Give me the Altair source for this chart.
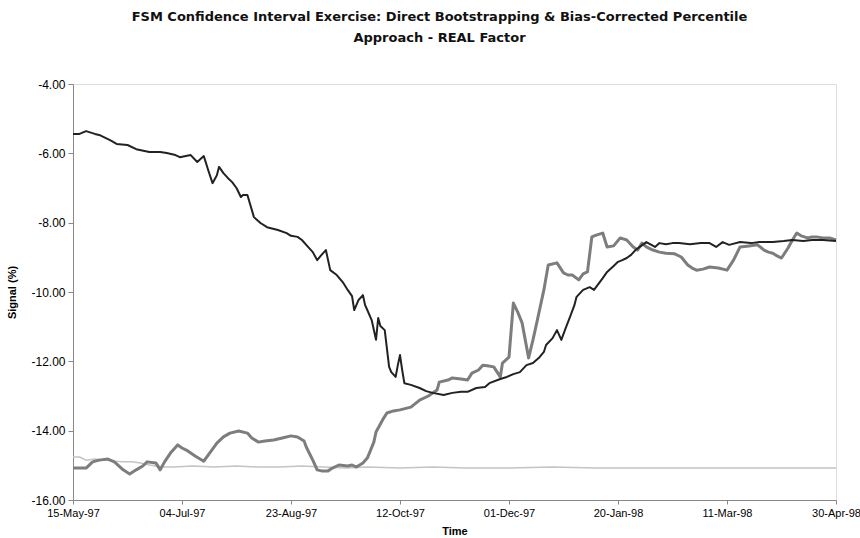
import altair as alt
import pandas as pd

# Day offsets are counted from 15-May-1997; values are the signal in percent.
START = "1997-05-15"

# Direct bootstrapping signal (dark line)
direct_days = [0, 3, 6, 10, 12, 17, 20, 25, 29, 35, 40, 43, 47, 49, 54, 57, 60, 62, 64, 66,
               67, 69, 71, 73, 75, 77, 78, 80, 83, 86, 89, 94, 98, 100, 103, 105, 107, 110, 112, 114,
               116, 118, 121, 124, 126, 128, 129, 131, 133, 134, 135, 137, 139, 140, 141, 143, 145, 146, 148, 149,
               150, 151, 152, 155, 159, 162, 165, 170, 174, 178, 181, 185, 189, 191, 196, 199, 202, 205, 208, 211,
               214, 216, 217, 220, 222, 224, 226, 228, 230, 231, 234, 237, 239, 243, 245, 248, 250, 252, 254, 256,
               258, 260, 263, 267, 269, 272, 275, 278, 283, 288, 292, 295, 298, 301, 306, 311, 315, 321, 326, 330,
               335, 339, 344, 350]
direct_vals = [-5.44, -5.44, -5.36, -5.44, -5.47, -5.62, -5.73, -5.76, -5.88, -5.96, -5.96, -5.99, -6.05, -6.11, -6.05, -6.25, -6.08, -6.48, -6.86, -6.63,
               -6.39, -6.57, -6.71, -6.83, -7.00, -7.26, -7.20, -7.20, -7.84, -8.01, -8.13, -8.21, -8.30, -8.38, -8.41, -8.50, -8.64, -8.85, -9.08, -8.93,
               -8.79, -9.37, -9.51, -9.74, -9.94, -10.12, -10.52, -10.23, -10.09, -10.38, -10.52, -10.81, -11.38, -10.75, -10.98, -11.10, -12.16, -12.31, -12.45, -12.11,
               -11.82, -12.25, -12.63, -12.68, -12.77, -12.86, -12.91, -12.97, -12.91, -12.88, -12.88, -12.77, -12.74, -12.63, -12.51, -12.45, -12.37, -12.31, -12.11, -12.05,
               -11.88, -11.73, -11.53, -11.33, -11.10, -11.38, -11.04, -10.72, -10.38, -10.14, -9.94, -9.86, -9.94, -9.60, -9.42, -9.25, -9.13, -9.08, -9.02, -8.93,
               -8.79, -8.70, -8.56, -8.70, -8.59, -8.62, -8.59, -8.59, -8.62, -8.59, -8.59, -8.70, -8.56, -8.64, -8.56, -8.59, -8.56, -8.56, -8.53, -8.50,
               -8.53, -8.50, -8.50, -8.53]

# Bias-corrected percentile signal (thick grey line)
bcp_days = [0, 3, 6, 9, 12, 16, 19, 23, 26, 29, 32, 34, 38, 40, 42, 45, 48, 50, 52, 56,
            60, 63, 66, 69, 72, 76, 80, 82, 85, 88, 92, 96, 100, 103, 106, 107, 110, 112, 114, 117,
            119, 122, 126, 128, 130, 133, 135, 136, 138, 139, 142, 144, 147, 150, 155, 159, 163, 167, 168, 172,
            174, 178, 181, 183, 186, 188, 190, 193, 196, 197, 200, 202, 204, 206, 209, 211, 213, 216, 218, 222,
            225, 227, 229, 232, 234, 236, 238, 240, 243, 245, 248, 251, 254, 257, 259, 261, 263, 266, 269, 272,
            276, 279, 282, 284, 286, 289, 292, 296, 300, 303, 306, 310, 314, 317, 319, 321, 323, 325, 328, 330,
            332, 334, 337, 339, 341, 344, 347, 350]
bcp_vals = [-15.08, -15.08, -15.08, -14.90, -14.85, -14.82, -14.90, -15.13, -15.25, -15.13, -15.02, -14.90, -14.93, -15.13, -14.90, -14.62, -14.41, -14.50, -14.56, -14.73,
            -14.88, -14.62, -14.36, -14.18, -14.07, -14.01, -14.07, -14.21, -14.33, -14.30, -14.27, -14.21, -14.15, -14.18, -14.30, -14.47, -14.85, -15.13, -15.16, -15.16,
            -15.08, -14.99, -15.02, -14.99, -15.05, -14.93, -14.79, -14.64, -14.33, -14.04, -13.69, -13.49, -13.43, -13.40, -13.32, -13.12, -13.00, -12.83, -12.60, -12.54,
            -12.48, -12.51, -12.54, -12.34, -12.25, -12.11, -12.13, -12.16, -12.45, -12.05, -11.88, -10.32, -10.58, -10.89, -11.90, -11.38, -10.81, -9.94, -9.22, -9.16,
            -9.45, -9.51, -9.51, -9.65, -9.48, -9.42, -8.41, -8.36, -8.30, -8.70, -8.67, -8.44, -8.50, -8.70, -8.79, -8.59, -8.70, -8.79, -8.85, -8.88,
            -8.90, -8.99, -9.22, -9.31, -9.37, -9.34, -9.28, -9.31, -9.37, -9.08, -8.70, -8.67, -8.64, -8.79, -8.85, -8.88, -8.96, -9.02, -8.73, -8.50,
            -8.30, -8.38, -8.44, -8.41, -8.41, -8.44, -8.44, -8.50]

# Reference level (thin light line)
base_days = [0, 3, 6, 10, 16, 19, 23, 27, 31, 35, 41, 46, 55, 65, 75, 85, 95, 105, 115, 125,
             135, 150, 165, 180, 200, 220, 240, 260, 280, 300, 320, 335, 350]
base_vals = [-14.76, -14.76, -14.85, -14.82, -14.85, -14.88, -14.90, -14.90, -14.93, -14.99, -15.05, -15.05, -15.02, -15.05, -15.02, -15.05, -15.05, -15.02, -15.05, -15.08,
             -15.05, -15.08, -15.05, -15.08, -15.08, -15.05, -15.08, -15.08, -15.08, -15.08, -15.08, -15.08, -15.08]

# Axis ticks every 50 days
tick_dates = [(1997, 5, 15), (1997, 7, 4), (1997, 8, 23), (1997, 10, 12),
              (1997, 12, 1), (1998, 1, 20), (1998, 3, 11), (1998, 4, 30)]
y_ticks = [-16, -14, -12, -10, -8, -6, -4]


def frame(days, vals, name):
    dates = (pd.Timestamp(START) + pd.to_timedelta(days, unit="D")).strftime("%Y-%m-%d")
    return pd.DataFrame({"date": list(dates), "signal": vals, "series": name})


def utc_day(t):
    return alt.DateTime(year=t[0], month=t[1], date=t[2], utc=True)


FONT = "Liberation Sans"
FRAME = "#9a9a9a"

x_enc = alt.X(
    "date:T",
    scale=alt.Scale(type="utc", domain=[utc_day(tick_dates[0]), utc_day(tick_dates[-1])]),
    axis=alt.Axis(
        values=[utc_day(t) for t in tick_dates],
        labelExpr="utcFormat(datum.value, '%d-%b-%y')",
        title="Time",
        titleY=25,
        grid=False,
        tickSize=4,
        labelPadding=3,
        labelFontSize=11,
        labelOverlap=False,
        labelFlush=False,
    ),
)
y_enc = alt.Y(
    "signal:Q",
    scale=alt.Scale(domain=[-16, -4], nice=False, zero=False),
    axis=alt.Axis(
        values=y_ticks,
        labelExpr="(datum.value < 0 ? '-' : '') + format(abs(datum.value), '.2f')",
        title="Signal (%)",
        titleX=-61,
        titleY=208,
        titleBaseline="middle",
        grid=False,
        tickSize=5,
        labelPadding=3,
        labelFontSize=12,
    ),
)


def line(df, color, width):
    return alt.Chart(df).mark_line(color=color, strokeWidth=width, strokeJoin="round").encode(
        x=x_enc, y=y_enc
    )


chart = alt.layer(
    line(frame(base_days, base_vals, "Reference"), "#c4c4c4", 1.5),
    line(frame(bcp_days, bcp_vals, "Bias-corrected percentile"), "#7d7d7d", 3),
    line(frame(direct_days, direct_vals, "Direct bootstrapping"), "#222222", 2),
).properties(
    width=763,
    height=416,
    autosize=alt.AutoSizeParams(type="none"),
    padding={"left": 73, "top": 84, "right": 24, "bottom": 38},
    title=alt.TitleParams(
        text=["FSM Confidence Interval Exercise: Direct Bootstrapping & Bias-Corrected Percentile",
              "Approach - REAL Factor"],
        font="DejaVu Sans",
        fontSize=13,
        fontWeight="bold",
        color="#111111",
        anchor="middle",
        lineHeight=21,
        offset=33,
        dx=-15,
    ),
).configure_view(
    stroke=FRAME, strokeWidth=1
).configure_axis(
    domainColor=FRAME,
    tickColor=FRAME,
    labelFont=FONT,
    labelColor="#111111",
    titleFont=FONT,
    titleFontSize=11,
    titleFontWeight="bold",
    titleColor="#111111",
).configure(background="white")

chart.save("out.html", embed_options={"renderer": "svg", "actions": False})
